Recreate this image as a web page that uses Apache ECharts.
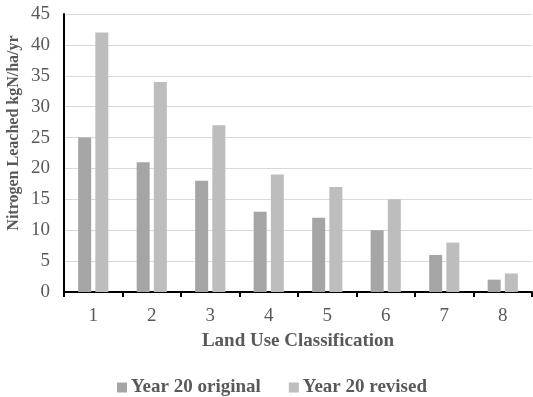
<!DOCTYPE html>
<html><head><meta charset="utf-8">
<script src="https://cdn.jsdelivr.net/npm/echarts@6/dist/echarts.min.js"></script>
<style>html,body{margin:0;padding:0;background:#fff}#c{width:533px;height:397px}</style>
</head><body><div id="c"></div>
<script>
var categories = ['1','2','3','4','5','6','7','8'];
var original = [25,21,18,13,12,10,6,2];
var revised = [42,34,27,19,17,15,8,3];
var yTicks = [0,5,10,15,20,25,30,35,40,45];
var font = '"Liberation Serif", "Times New Roman", serif';
var chart = echarts.init(document.getElementById('c'));
chart.setOption({
  animation:false,
  textStyle:{fontFamily:font},
  grid:{left:64,right:1,top:14,bottom:105},
  legend:{top:373,left:112,itemWidth:10,itemHeight:10,itemGap:28,icon:'rect',
    textStyle:{fontFamily:font,fontWeight:'bold',fontSize:19,color:'#595959',padding:[0,0,0,-1]},
    data:['Year 20 original','Year 20 revised']},
  graphic:[{type:'text',x:14,y:133,rotation:Math.PI/2,
    style:{text:'Nitrogen Leached kgN/ha/yr',font:'bold 16px '+font,fill:'#595959',
      textAlign:'center',textVerticalAlign:'middle'}}],
  xAxis:{type:'category',data:categories,name:'Land Use Classification',nameLocation:'middle',nameGap:40,
    nameTextStyle:{fontFamily:font,fontWeight:'bold',fontSize:19,color:'#595959'},
    axisLine:{lineStyle:{color:'#000',width:2}},
    axisTick:{show:true,length:5,lineStyle:{color:'#000',width:2}},
    axisLabel:{fontFamily:font,fontSize:19,color:'#595959',margin:15}},
  yAxis:{type:'value',min:0,max:45,interval:5,
    axisLine:{show:true,lineStyle:{color:'#000',width:2}},
    axisTick:{show:false},
    splitLine:{lineStyle:{color:'#d9d9d9',width:1}},
    axisLabel:{fontFamily:font,fontSize:19,color:'#595959',margin:14,
      formatter:function(v){return yTicks.indexOf(v)>=0?String(v):'';}}},
  series:[
    {name:'Year 20 original',type:'bar',data:original,barWidth:13,barGap:'32%',itemStyle:{color:'#a5a5a5'}},
    {name:'Year 20 revised',type:'bar',data:revised,barWidth:13,itemStyle:{color:'#bdbdbd'}}
  ]
});
</script></body></html>
